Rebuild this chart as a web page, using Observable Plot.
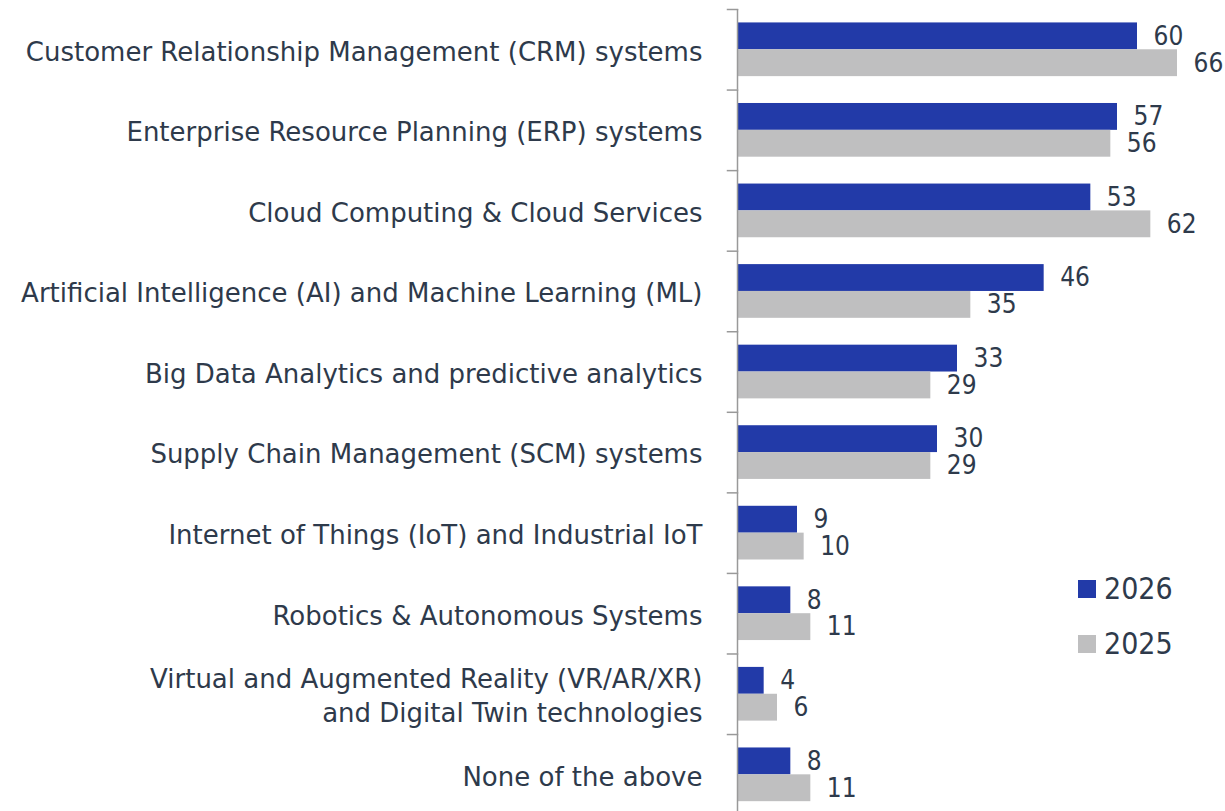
<!DOCTYPE html>
<html>
<head>
<meta charset="utf-8">
<script src="https://cdn.jsdelivr.net/npm/d3@7"></script>
<script src="https://cdn.jsdelivr.net/npm/@observablehq/plot@0.6"></script>
<style>
  body { margin: 0; background: white; }
  #wrap { position: relative; width: 1225px; height: 811px; overflow: hidden; }
  #legend { position: absolute; left: 1078px; top: 561px; font-family: "DejaVu Sans Condensed", sans-serif; font-size: 30px; color: #2E3A4B; }
  #legend .item { display: flex; align-items: center; height: 55px; }
  #legend .sw { width: 18px; height: 18px; margin-right: 8px; }
</style>
</head>
<body>
<div id="wrap"><div id="legend"></div></div>
<script>
const categories = [
  "Customer Relationship Management (CRM) systems",
  "Enterprise Resource Planning (ERP) systems",
  "Cloud Computing & Cloud Services",
  "Artificial Intelligence (AI) and Machine Learning (ML)",
  "Big Data Analytics and predictive analytics",
  "Supply Chain Management (SCM) systems",
  "Internet of Things (IoT) and Industrial IoT",
  "Robotics & Autonomous Systems",
  "Virtual and Augmented Reality (VR/AR/XR)\nand Digital Twin technologies",
  "None of the above"
];
const values2026 = [60, 57, 53, 46, 33, 30, 9, 8, 4, 8];
const values2025 = [66, 56, 62, 35, 29, 29, 10, 11, 6, 11];
const series = ["2026", "2025"];
const colors = ["#223AA8", "#BFBFC0"];

const data = categories.flatMap((c, i) => [
  {category: c, series: "2026", value: values2026[i]},
  {category: c, series: "2025", value: values2025[i]}
]);

const chart = Plot.plot({
  width: 1225, height: 811,
  marginLeft: 737, marginRight: 0, marginTop: 9, marginBottom: 0,
  style: {fontFamily: "'DejaVu Sans Condensed', sans-serif", fontSize: "26px", color: "#2E3A4B", background: "white"},
  x: {domain: [0, 73.2], axis: null},
  y: {domain: series, axis: null, paddingInner: 0, paddingOuter: 0.5, round: false},
  fy: {domain: categories, padding: 0, round: false, range: [9, 814.6]},
  color: {domain: series, range: colors},
  marks: [
    Plot.axisFy({anchor: "left", tickSize: 0, tickPadding: 35, lineHeight: 1.3, fontSize: 26, fontFamily: "'DejaVu Sans', sans-serif", label: null}),
    Plot.barX(data, {fy: "category", y: "series", x: "value", fill: "series"}),
    Plot.text(data, {fy: "category", y: "series", x: "value", text: "value", dx: 16, textAnchor: "start", fontSize: 26}),
    Plot.ruleX([0], {stroke: "#999", strokeWidth: 1.5}),
    Plot.frame({anchor: "top", insetLeft: -10, insetRight: 488, stroke: "#999", strokeWidth: 1.5})
  ]
});
document.getElementById("wrap").prepend(chart);

const legend = document.getElementById("legend");
series.forEach((s, i) => {
  const item = document.createElement("div");
  item.className = "item";
  item.innerHTML = `<span class="sw" style="background:${colors[i]}"></span><span>${s}</span>`;
  legend.appendChild(item);
});
</script>
</body>
</html>
